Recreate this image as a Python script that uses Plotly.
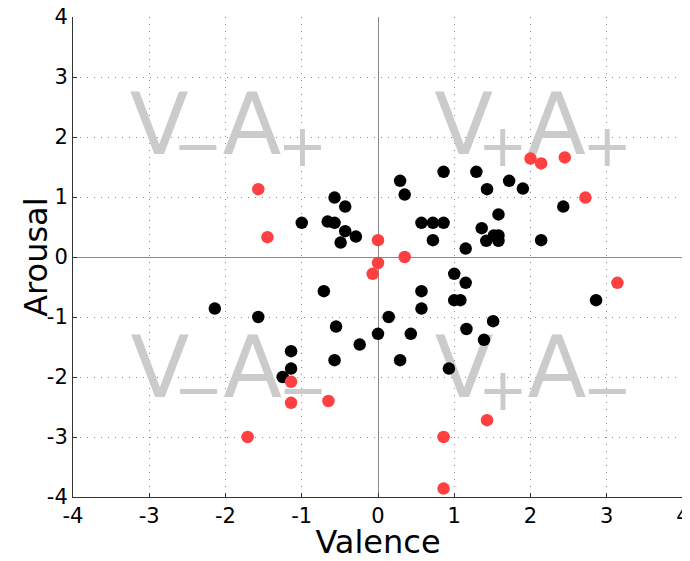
import plotly.graph_objects as go

# Black points (valence, arousal)
black_valence = [-1.0, -0.57, -0.43, -0.66, -0.57, -0.43, -0.49, -0.29,
                 0.29, 0.35, 0.86, 1.29, 1.43, 1.72, 1.90, 2.43,
                 0.57, 0.72, 0.86, 0.72, 1.58, 1.36, 1.42, 1.52, 1.58, 1.58, 1.15, 2.14,
                 -0.71, -2.14, -1.57, 0.14, -0.55, 0.0, -0.24, -1.14, -0.57, -1.14, -1.25,
                 1.0, 1.15, 0.57, 1.0, 1.08, 0.57, 0.43, 1.16, 1.51, 1.39, 0.29, 0.93, 2.86]
black_arousal = [0.57, 0.99, 0.84, 0.59, 0.57, 0.43, 0.24, 0.34,
                 1.27, 1.04, 1.42, 1.42, 1.13, 1.27, 1.14, 0.84,
                 0.57, 0.57, 0.57, 0.28, 0.71, 0.48, 0.27, 0.36, 0.36, 0.27, 0.14, 0.28,
                 -0.57, -0.86, -1.0, -1.0, -1.16, -1.28, -1.46, -1.57, -1.72, -1.86, -2.0,
                 -0.28, -0.43, -0.57, -0.72, -0.72, -0.86, -1.28, -1.2, -1.07, -1.38, -1.72, -1.86, -0.72]

# Red points
red_valence = [-1.57, -1.45, 0.0, 0.35, 0.0, -0.07, 2.0, 2.14, 2.45, 2.72, 3.14,
               -1.14, -1.14, -0.65, -1.71, 1.43, 0.86, 0.86]
red_arousal = [1.13, 0.33, 0.28, 0.0, -0.1, -0.28, 1.64, 1.56, 1.66, 0.99, -0.43,
               -2.08, -2.43, -2.4, -3.0, -2.72, -3.0, -3.86]

# Quadrant labels: V<sign1>A<sign2>
quad_signs = [("−", "+"), ("+", "+"), ("−", "−"), ("+", "−")]
quad_letters = ("V", "A")

tick_vals = [-4, -3, -2, -1, 0, 1, 2, 3, 4]
x_title = "Valence"
y_title = "Arousal"

# ---- layout / styling constants ----
FONT = "DejaVu Sans"
LABEL_COLOR = "#cbcbcb"
# centre of the "V" glyph of each quadrant label (data units)
QUAD_V_X = [-2.87, 1.125, -2.86, 1.13]
QUAD_V_Y = [2.08, 2.08, -1.98, -1.98]
DX_SIGN1, DX_A, DX_SIGN2 = 0.51, 1.215, 1.88
DY_SIGN = -0.32

letter_x, letter_y, letter_t = [], [], []
sign_x, sign_y, sign_t = [], [], []
for vx, vy, (s1, s2) in zip(QUAD_V_X, QUAD_V_Y, quad_signs):
    letter_x += [vx, vx + DX_A]
    letter_y += [vy, vy]
    letter_t += list(quad_letters)
    sign_x += [vx + DX_SIGN1, vx + DX_SIGN2]
    sign_y += [vy + DY_SIGN, vy + DY_SIGN]
    sign_t += [s1, s2]

fig = go.Figure()
fig.add_trace(go.Scatter(
    x=letter_x, y=letter_y, text=letter_t, mode="text",
    textposition="middle center",
    textfont=dict(family=FONT, size=86, color=LABEL_COLOR),
    hoverinfo="skip", showlegend=False))
fig.add_trace(go.Scatter(
    x=sign_x, y=sign_y, text=sign_t, mode="text",
    textposition="middle center",
    textfont=dict(family=FONT, size=59, color=LABEL_COLOR),
    hoverinfo="skip", showlegend=False))
fig.add_trace(go.Scatter(
    x=black_valence, y=black_arousal, mode="markers",
    marker=dict(color="black", size=12.5, line=dict(width=0)),
    showlegend=False))
fig.add_trace(go.Scatter(
    x=red_valence, y=red_arousal, mode="markers",
    marker=dict(color="#ff4040", size=12.5, line=dict(width=0)),
    showlegend=False))

axis_common = dict(
    range=[-4, 4], tickvals=tick_vals, ticktext=[str(v) for v in tick_vals],
    showgrid=True, gridcolor="#8a8a8a", gridwidth=1, griddash="1px,6px",
    zeroline=True, zerolinecolor="#8a8a8a", zerolinewidth=1,
    showline=True, linecolor="#333333", linewidth=1, mirror=False,
    ticks="inside", ticklen=4, tickcolor="#333333",
    tickfont=dict(family=FONT, size=21, color="black"),
    automargin=False, ticklabeloverflow="allow",
)

# the page body adds an 8px margin, so the figure is sized to fill the rest
fig.update_layout(
    width=684, height=553,
    margin=dict(l=65, r=9, t=9, b=64),
    paper_bgcolor="white", plot_bgcolor="white",
    xaxis=dict(**axis_common,
               title=dict(text=x_title, font=dict(family=FONT, size=32, color="black"),
                          standoff=16)),
    yaxis=dict(**axis_common),
)
fig.add_annotation(
    text=y_title, textangle=-90, xref="paper", yref="paper",
    x=-0.061, y=0.5, xanchor="center", yanchor="middle", showarrow=False,
    font=dict(family=FONT, size=32, color="black"))

fig.write_html("out.html")
